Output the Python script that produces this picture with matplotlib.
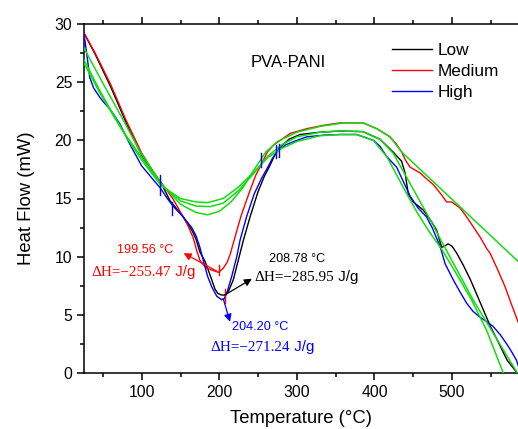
import matplotlib
matplotlib.use("Agg")
import matplotlib.pyplot as plt
from matplotlib.offsetbox import TextArea, HPacker, AnnotationBbox
from matplotlib.ticker import MultipleLocator

plt.rcParams['font.family'] = ['Liberation Sans', 'DejaVu Sans']

# ---------------- data ----------------
low_x = [25, 40, 60, 80, 100, 115, 126, 136.5, 151.6, 164.5, 170, 175, 181.6, 186, 190.3, 194.5, 198, 203, 207,
         211.6, 218, 224.5, 231, 240, 250, 258, 265, 272, 278, 290, 304, 330, 355, 385, 407, 424, 435, 439.4,
         443.6, 450, 463, 471.6, 480, 486.6, 490, 495, 500, 506, 515, 523.8, 536, 549.5, 560, 571, 584]
low_y = [29.3, 27.4, 24.6, 21.5, 18.7, 17.2, 16.2, 14.8, 13.6, 12.3, 11.5, 10.4, 9.6, 8.8, 8.0, 7.2, 6.85, 6.7, 6.7,
         7.0, 8.0, 9.7, 11.4, 13.5, 15.6, 16.9, 17.8, 18.8, 19.4, 20.1, 20.5, 20.7, 20.8, 20.75, 20.1, 19.0, 18.2, 17.2,
         15.4, 14.7, 14.0, 13.2, 12.3, 10.8, 10.9, 11.1, 10.9, 10.3, 9.2, 8.0, 6.1, 4.0, 2.6, 1.1, 0.0]

med_x = [25, 40, 60, 80, 100, 115, 126, 140, 153.7, 160, 166.5, 171, 175, 179.4, 184, 190.3, 199, 205, 210, 214,
         219, 228, 239.6, 247, 254.7, 262, 270, 291.6, 312.7, 335, 355.6, 385.6, 403, 420, 428, 435, 440, 445.8,
         458.7, 467, 475.8, 486.6, 493, 499.5, 510, 518, 527, 536, 544.6, 549, 558, 568.4, 576, 585]
med_y = [29.3, 27.5, 24.8, 21.7, 18.9, 17.3, 16.3, 15.0, 13.4, 12.6, 11.6, 10.5, 9.7, 9.3, 9.0, 8.85, 8.65, 9.0, 9.5, 10.2,
         11.4, 13.5, 15.7, 17.0, 18.0, 19.0, 19.6, 20.6, 21.0, 21.3, 21.5, 21.5, 21.0, 20.3, 19.7, 19.0, 18.3, 17.7,
         17.2, 16.7, 16.2, 15.3, 14.7, 14.7, 14.2, 13.5, 12.6, 11.7, 10.7, 10.3, 9.0, 7.4, 6.0, 4.4]

high_x = [25, 27, 30, 33, 38, 46, 52, 59, 66, 72, 80, 86, 100, 115, 124, 133, 141, 153.7, 164.5, 170, 175, 180, 185,
          190.3, 196.7, 203, 206, 209.6, 216, 222.5, 226.7, 235, 245, 255, 261, 268, 274, 285, 300, 312.7, 335,
          355.6, 377, 398.5, 407, 415.8, 428.5, 446, 456, 467.3, 475, 484.5, 491, 501.6, 510, 518.8, 527, 536, 545,
          553, 562, 570.4, 577, 583, 586]
high_y = [29.3, 28.5, 27.0, 25.4, 24.5, 23.7, 23.2, 22.7, 22.0, 21.4, 20.3, 19.5, 17.8, 16.6, 15.9, 15.0, 14.3, 13.4, 12.5,
          11.8, 10.8, 9.5, 8.3, 7.4, 6.6, 6.3, 6.35, 6.85, 8.3, 10.0, 11.4, 13.4, 15.4, 16.8, 17.5, 18.4, 19.0, 19.6,
          20.0, 20.3, 20.45, 20.5, 20.5, 20.0, 19.5, 18.6, 17.7, 15.2, 14.2, 13.4, 12.4, 10.9, 9.4, 8.0, 7.0, 6.0,
          5.3, 4.8, 4.4, 4.0, 3.3, 2.5, 1.8, 1.1, 0.5]

# baselines (green)
gmed_x = [25, 50, 75, 98, 125, 150, 170, 185, 200, 215, 230, 245, 260, 275, 300, 330, 360, 385, 403, 420, 435, 585]
gmed_y = [28.0, 24.9, 21.9, 19.0, 16.3, 14.5, 13.8, 13.6, 13.9, 14.7, 15.9, 17.5, 19.0, 19.9, 20.7, 21.2, 21.5, 21.5,
          21.0, 20.3, 19.0, 9.6]
glow_x = [25, 45, 60, 80, 100, 125, 150, 170, 188, 205, 225, 245, 262, 280, 300, 330, 355, 385, 407, 424, 440, 471.6,
          486.6, 527, 586]
glow_y = [27.0, 24.4, 22.6, 20.4, 18.5, 16.2, 14.8, 14.35, 14.3, 14.6, 15.7, 17.2, 18.6, 19.6, 20.3, 20.7, 20.8,
          20.75, 20.1, 18.9, 17.0, 13.2, 11.3, 6.3, -0.2]
ghigh_x = [25, 45, 60, 80, 100, 125, 150, 170, 185, 205, 225, 245, 262, 280, 300, 330, 356, 377, 398.5, 415.8, 424,
           440, 455, 470, 486, 505, 525, 545, 566, 572]
ghigh_y = [26.7, 24.2, 22.5, 20.3, 18.3, 16.1, 15.0, 14.7, 14.65, 15.0, 16.0, 17.3, 18.5, 19.3, 19.9, 20.4, 20.5,
           20.5, 20.0, 18.6, 17.6, 15.6, 13.8, 12.2, 10.7, 8.6, 6.3, 3.6, 0.0, -1.0]

# integration limit marks: (x, y_low, y_high)
blue_marks = [(124, 15.3, 17.0), (138.7, 13.6, 14.7), (253.8, 17.7, 18.9), (272.7, 18.5, 19.6), (277, 18.6, 19.7)]
red_marks = [(199.6, 8.4, 9.3), (207.4, 6.0, 7.2)]

series_labels = ["Low", "Medium", "High"]
series_colors = ["black", "red", "blue"]

# ---------------- figure ----------------
fig = plt.figure(figsize=(5.18, 4.29), dpi=100)
ax = fig.add_axes([84 / 518, 56 / 429, 434 / 518, 349 / 429])

lw = 1.0
ax.plot(low_x, low_y, color="black", lw=lw, label="Low", zorder=3)
ax.plot(med_x, med_y, color="red", lw=lw, label="Medium", zorder=3)
ax.plot(high_x, high_y, color="blue", lw=lw, label="High", zorder=3)
for gx, gy in [(gmed_x, gmed_y), (glow_x, glow_y), (ghigh_x, ghigh_y)]:
    ax.plot(gx, gy, color="#11dd11", lw=1.1, zorder=4)

for x, y0, y1 in blue_marks:
    ax.plot([x, x], [y0, y1], color="blue", lw=1.0, zorder=5)
for x, y0, y1 in red_marks:
    ax.plot([x, x], [y0, y1], color="red", lw=1.0, zorder=5)

ax.set_xlim(25.6, 585)
ax.set_ylim(0, 30)
ax.xaxis.set_major_locator(MultipleLocator(100))
ax.xaxis.set_minor_locator(MultipleLocator(50))
ax.yaxis.set_major_locator(MultipleLocator(5))
ax.yaxis.set_minor_locator(MultipleLocator(2.5))
ax.spines['right'].set_visible(False)
for s in ['left', 'top', 'bottom']:
    ax.spines[s].set_linewidth(1.1)
ax.tick_params(axis='x', which='both', direction='out', top=True, bottom=True, labeltop=False,
               labelsize=11.3, width=1.1)
ax.tick_params(axis='y', which='both', direction='out', left=True, right=False, labelsize=11.3, width=1.1)
ax.tick_params(which='major', length=5)
ax.tick_params(which='minor', length=3)

ax.set_xlabel("Temperature (°C)", fontsize=13.3)
ax.set_ylabel("Heat Flow (mW)", fontsize=13.3)
ax.xaxis.set_label_coords(0.5, -0.105)
ax.yaxis.set_label_coords(-0.113, 0.5)

ax.text(289, 26.7, "PVA-PANI", fontsize=12, ha="center", va="center")

leg = ax.legend(loc="upper left", bbox_to_anchor=(0.71, 0.947), frameon=False, fontsize=12.4,
                handlelength=2.3, handletextpad=0.35, labelspacing=0.36, borderpad=0, borderaxespad=0)

# annotations
ann_style = dict(arrowstyle='-|>', lw=0.9, mutation_scale=11, shrinkA=0, shrinkB=0)
ax.annotate("", xy=(154, 10.3), xytext=(197, 8.75), arrowprops=dict(color="red", **ann_style), zorder=6)
ax.annotate("", xy=(242, 8.1), xytext=(207, 6.7), arrowprops=dict(color="black", **ann_style), zorder=6)
ax.annotate("", xy=(213.8, 4.4), xytext=(205, 6.4), arrowprops=dict(color="blue", **ann_style), zorder=6)

temp_texts = [("199.56 °C", 105, 10.57, "red"), ("208.78 °C", 300.2, 9.8, "black"), ("204.20 °C", 253.2, 3.95, "blue")]
for s, x, y, c in temp_texts:
    ax.text(x, y, s, color=c, fontsize=9.1, ha="center", va="center")

dh_texts = [("255.47", 102.4, 8.7, "red"), ("285.95", 311.8, 8.25, "black"), ("271.24", 255, 2.24, "blue")]
for v, x, y, c in dh_texts:
    t1 = TextArea("ΔH=−" + v, textprops=dict(color=c, fontsize=10.9, family=['Liberation Serif', 'DejaVu Serif']))
    t2 = TextArea(" J/g", textprops=dict(color=c, fontsize=10.9, family=['Liberation Sans', 'DejaVu Sans']))
    pk = HPacker(children=[t1, t2], align="baseline", pad=0, sep=0)
    ab = AnnotationBbox(pk, (x, y), xycoords="data", frameon=False, box_alignment=(0.5, 0.5), pad=0)
    ax.add_artist(ab)

fig.savefig("out.png", dpi=100)
